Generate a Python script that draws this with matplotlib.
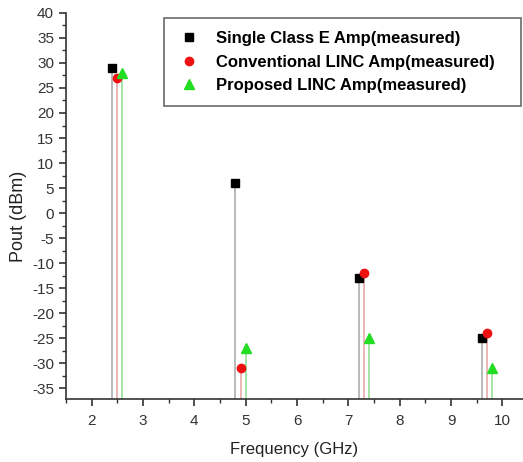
import numpy as np
import matplotlib.pyplot as plt
from matplotlib.ticker import MultipleLocator

plt.rcParams['font.family'] = ['Liberation Sans', 'DejaVu Sans']
plt.rcParams['axes.unicode_minus'] = False

# Дані
freq_single = [2.4, 4.8, 7.2, 9.6]
pout_single = [29, 6, -13, -25]

freq_conv = [2.5, 4.9, 7.3, 9.7]
pout_conv = [27, -31, -12, -24]

freq_prop = [2.6, 5.0, 7.4, 9.8]
pout_prop = [28, -27, -25, -31]

y_bottom = -37.2

fig = plt.figure(figsize=(5.23, 4.62), dpi=100)
ax = fig.add_axes([0.126, 0.136, 0.874, 0.836])

# Вертикальні лінії (стовпчики)
ax.vlines(freq_single, y_bottom, pout_single, color='#b4b4b4', lw=1.3)
ax.vlines(freq_conv, y_bottom, pout_conv, color='#eab0b0', lw=1.3)
ax.vlines(freq_prop, y_bottom, pout_prop, color='#9ee29e', lw=1.3)

ax.plot(freq_single, pout_single, 's', color='black', ms=5.5, ls='none',
        label='Single Class E Amp(measured)')
ax.plot(freq_conv, pout_conv, 'o', color='#ee1111', ms=6, ls='none',
        label='Conventional LINC Amp(measured)')
ax.plot(freq_prop, pout_prop, '^', color='#22dd22', ms=7, ls='none',
        label='Proposed LINC Amp(measured)')

ax.set_xlim(1.5, 10.4)
ax.set_ylim(y_bottom, 40)
ax.xaxis.set_major_locator(MultipleLocator(1))
ax.xaxis.set_minor_locator(MultipleLocator(0.5))
ax.yaxis.set_major_locator(MultipleLocator(5))
ax.yaxis.set_minor_locator(MultipleLocator(2.5))

ax.spines['top'].set_visible(False)
ax.spines['right'].set_visible(False)
for s in ['left', 'bottom']:
    ax.spines[s].set_color('#333333')
    ax.spines[s].set_linewidth(1.2)

ax.tick_params(which='major', length=5, width=1.2, color='#333333',
               labelsize=11, labelcolor='#333333')
ax.tick_params(axis='x', which='major', pad=6)
ax.tick_params(which='minor', length=3, width=1.0, color='#333333')

ax.set_xlabel('Frequency (GHz)', fontsize=12, color='#222222', labelpad=10)
ax.set_ylabel('Pout (dBm)', fontsize=13, color='#222222')
ax.yaxis.set_label_coords(-0.086, 0.474)

leg = ax.legend(loc='upper left', bbox_to_anchor=(0.2144, 0.5, 0.781, 0.487),
                mode='expand', borderaxespad=0,
                prop={'weight': 'bold', 'size': 12}, frameon=True,
                fancybox=False, edgecolor='#444444', handletextpad=0.9,
                labelspacing=0.5, borderpad=0.8, handlelength=1.4)
leg.get_frame().set_linewidth(1.2)

plt.savefig('out.png', dpi=100)
plt.close()
